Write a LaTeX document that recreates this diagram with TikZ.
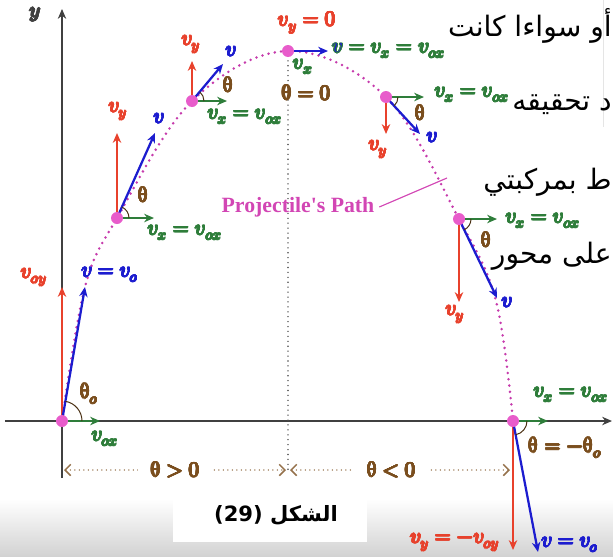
\documentclass[tikz,border=0pt]{standalone}
\usepackage{fontspec}
\usepackage{unicode-math}
\usepackage{contour}
\setmathfont{latinmodern-math.otf}
\newfontfamily\arabicfont[Script=Arabic]{DejaVu Sans}
\newfontfamily\latinfont{DejaVu Sans}
\newfontfamily\pathfont{Liberation Serif}
\TeXXeTstate=1
\usetikzlibrary{arrows.meta}
\contourlength{0.4pt}
\contournumber{16}
\definecolor{vred}{HTML}{E8412C}
\definecolor{vblue}{HTML}{1C1CCF}
\definecolor{vgreen}{HTML}{2E7D3A}
\definecolor{vbrown}{HTML}{7A4E1E}
\definecolor{pathpink}{HTML}{D246B4}
\definecolor{dotpink}{HTML}{E85CCB}
\tikzset{
  vec/.style={->,line width=1.6pt},
  lbl/.style={font=\fontsize{15}{17}\selectfont,inner sep=1pt},
  anglbl/.style={lbl,text=vbrown},
  angarc/.style={line width=.7pt,draw=vbrown!60!black},
  rangeline/.style={vbrown!80,line width=1.1pt,dash pattern=on 0pt off 3.2pt,line cap=round,
    {Straight Barb[length=4pt,width=8pt]}-{Straight Barb[length=4pt,width=8pt]}},
  arabtxt/.style={font=\arabicfont\fontsize{20}{24}\selectfont,anchor=east,inner sep=0pt}
}
\newcommand{\ang}{\symup{\theta}}
\newcommand{\lab}[1]{\contour{.}{$#1$}}
\begin{document}
\begin{tikzpicture}[>={Stealth[length=7pt,width=6pt]}]
\useasboundingbox (-1.55,-3.375) rectangle (13.775,10.525);
% background strip and caption box
\shade[top color=white,bottom color=gray!35] (-1.55,-1.95) rectangle (13.775,-3.375);
\fill[white] (2.775,-1.95) rectangle (7.625,-3.025);
\draw[gray!20,line width=.6pt] (13.525,10.525) -- (13.525,7.35);
% axes
\coordinate (O) at (0,0);
\coordinate (xl) at (-1.425,0); \coordinate (xr) at (13.75,0);
\coordinate (yb) at (0,-1.425); \coordinate (yt) at (0,10.3);
\draw[->,line width=1pt,gray!50!black] (xl) -- (xr);
\draw[->,line width=1pt,gray!50!black] (yb) -- (yt);
\node[lbl,gray!50!black] (ylab) at (-0.675,10.15) {\lab{y}};
% points on the path
\coordinate (P1) at (1.375,5.075);
\coordinate (P2) at (3.25,8);
\coordinate (A) at (5.65,9.25);
\coordinate (P3) at (8.1,8.1);
\coordinate (P4) at (9.925,5.05);
\coordinate (L) at (11.275,0);
\coordinate (Ab) at (5.65,-1.3);
\draw[gray!60!black,line width=1.1pt,dash pattern=on 0pt off 3.5pt,line cap=round] (A) -- (Ab);
\draw[pathpink!85!violet,line width=2pt,dash pattern=on 0pt off 4.5pt,line cap=round]
  plot[smooth,tension=.6] coordinates {(O) (0.575,3.35) (P1) (P2) (A) (P3) (P4) (10.85,3) (L)};
% range
\coordinate (r1a) at (0.05,-1.225); \coordinate (r1b) at (5.6,-1.225);
\coordinate (r2a) at (5.7,-1.225); \coordinate (r2b) at (11.2,-1.225);
\draw[rangeline] (r1a) -- (r1b) node[midway,fill=white,anglbl,inner xsep=9pt] (lr1) {\lab{\ang > 0}};
\draw[rangeline] (r2a) -- (r2b) node[pos=.46,fill=white,anglbl,inner xsep=9pt] (lr2) {\lab{\ang < 0}};
% launch
\coordinate (Oy) at (0,3.35); \coordinate (Ov) at (0.575,3.35); \coordinate (Ox) at (0.95,0);
\draw[vec,vred] (O) -- (Oy);
\draw[vec,vblue] (O) -- (Ov);
\draw[vec,vgreen] (O) -- (Ox);
\draw[angarc] (O) ++(0:.5) arc (0:80:.5);
\node[lbl,vred] (lOy) at (-0.7,3.575) {\lab{v_{oy}}};
\node[lbl,vblue] (lOv) at (1.2,3.65) {\lab{v = v_o}};
\node[lbl,vgreen] (lOx) at (1.075,-0.45) {\lab{v_{ox}}};
\node[anglbl] (lOt) at (0.675,0.675) {\lab{\ang_o}};
% first point
\coordinate (P1y) at (1.375,7.2); \coordinate (P1v) at (2.325,7.2); \coordinate (P1x) at (2.3,5.075);
\draw[vec,vred] (P1) -- (P1y);
\draw[vec,vblue] (P1) -- (P1v);
\draw[vec,vgreen] (P1) -- (P1x);
\draw[angarc] (P1) ++(0:.3) arc (0:66:.3);
\node[lbl,vred] (lP1y) at (1.4,7.725) {\lab{v_y}};
\node[lbl,vblue] (lP1v) at (2.425,7.55) {\lab{v}};
\node[lbl,vgreen] (lP1x) at (3.075,4.7) {\lab{v_x = v_{ox}}};
\node[anglbl] (lP1t) at (2.025,5.65) {\lab{\ang}};
% second point
\coordinate (P2y) at (3.25,9); \coordinate (P2v) at (4.025,8.925); \coordinate (P2x) at (4.125,8);
\draw[vec,vred] (P2) -- (P2y);
\draw[vec,vblue] (P2) -- (P2v);
\draw[vec,vgreen] (P2) -- (P2x);
\draw[angarc] (P2) ++(0:.3) arc (0:50:.3);
\node[lbl,vred] (lP2y) at (3.225,9.4) {\lab{v_y}};
\node[lbl,vblue] (lP2v) at (4.225,9.225) {\lab{v}};
\node[lbl,vgreen] (lP2x) at (4.575,7.6) {\lab{v_x = v_{ox}}};
\node[anglbl] (lP2t) at (4.15,8.4) {\lab{\ang}};
% top
\coordinate (Av) at (6.65,9.25);
\draw[vec,vblue] (A) -- (Av);
\node[lbl,vred] (lAy) at (6.125,9.95) {\lab{v_y = 0}};
\node[lbl,vgreen,anchor=west] (lAv) at (6.72,9.25) {\lab{\color{vblue}v\color{vgreen} = v_x = v_{ox}}};
\node[lbl,vgreen] (lAx) at (6.025,8.85) {\lab{v_x}};
\node[anglbl] (lAt) at (6.1,8.2) {\lab{\ang = 0}};
% third point
\coordinate (P3y) at (8.1,7.175); \coordinate (P3v) at (8.95,7.175); \coordinate (P3x) at (9.05,8.1);
\draw[vec,vred] (P3) -- (P3y);
\draw[vec,vblue] (P3) -- (P3v);
\draw[vec,vgreen] (P3) -- (P3x);
\draw[angarc] (P3) ++(0:.3) arc (0:-47:.3);
\node[lbl,vgreen] (lP3x) at (10.25,8.15) {\lab{v_x = v_{ox}}};
\node[lbl,vred] (lP3y) at (7.9,6.775) {\lab{v_y}};
\node[lbl,vblue] (lP3v) at (9.25,7.075) {\lab{v}};
\node[anglbl] (lP3t) at (8.95,7.7) {\lab{\ang}};
% fourth point
\coordinate (P4y) at (9.925,2.975); \coordinate (P4v) at (10.875,3.075); \coordinate (P4x) at (10.875,5.05);
\draw[vec,vred] (P4) -- (P4y);
\draw[vec,vblue] (P4) -- (P4v);
\draw[vec,vgreen] (P4) -- (P4x);
\draw[angarc] (P4) ++(0:.3) arc (0:-64:.3);
\node[lbl,vgreen] (lP4x) at (12.025,5.0) {\lab{v_x = v_{ox}}};
\node[lbl,vred] (lP4y) at (9.825,2.65) {\lab{v_y}};
\node[lbl,vblue] (lP4v) at (11.125,2.95) {\lab{v}};
\node[anglbl] (lP4t) at (10.6,4.525) {\lab{\ang}};
% landing
\coordinate (Ly) at (11.275,-3.225); \coordinate (Lv) at (11.9,-3.275); \coordinate (Lx) at (12.15,0);
\draw[vec,vred] (L) -- (Ly);
\draw[vec,vblue] (L) -- (Lv);
\draw[vec,vgreen] (L) -- (Lx);
\draw[angarc] (L) ++(0:.35) arc (0:-79:.35);
\node[lbl,vgreen] (lLx) at (12.725,0.65) {\lab{v_x = v_{ox}}};
\node[anglbl] (lLt) at (12.575,-0.675) {\lab{\ang = -\ang_o}};
\node[lbl,vred] (lLy) at (9.825,-3.05) {\lab{v_y = -v_{oy}}};
\node[lbl,vblue] (lLv) at (12.7,-3.1) {\lab{v = v_o}};
% dots
\foreach \p in {O,P1,P2,A,P3,P4,L} \fill[dotpink] (\p) circle (.15);
% path label
\coordinate (pathpt) at (9.625,6.075);
\node[font=\pathfont\bfseries\fontsize{15.5}{18}\selectfont,text=pathpink] (lpath) at (5.9,5.35) {Projectile's Path};
\draw[pathpink,line width=.8pt] (lpath.east) -- (pathpt);
% arabic text
\node[arabtxt] (ar1) at (13.75,9.875) {\beginR أو سواءا كانت\endR};
\node[arabtxt] (ar2) at (13.75,7.9) {\beginR د تحقيقه\endR};
\node[arabtxt] (ar3) at (13.75,5.975) {\beginR ط بمركبتي\endR};
\node[arabtxt] (ar4) at (13.75,4.125) {\beginR على محور\endR};
\node[font=\arabicfont\bfseries\fontsize{15}{18}\selectfont] (cap) at (5.35,-2.35)
  {\beginR الشكل \beginL{\latinfont\bfseries(29)}\endL\endR};
\end{tikzpicture}
\end{document}
